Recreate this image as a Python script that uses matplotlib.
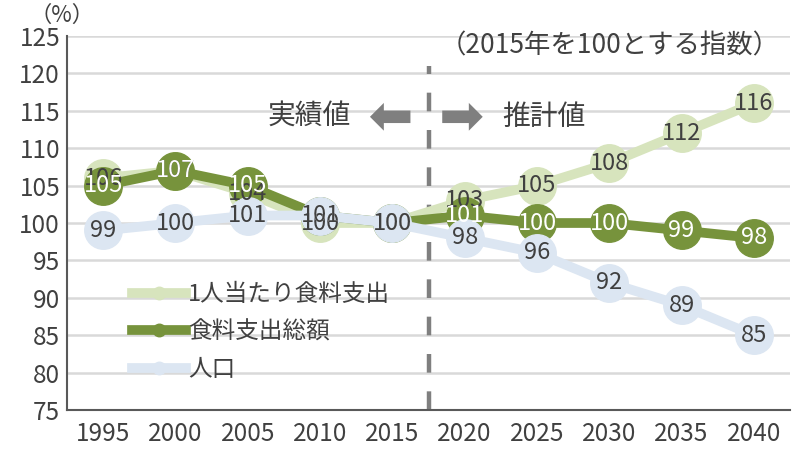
import matplotlib
matplotlib.use("Agg")
import matplotlib.pyplot as plt
from matplotlib.lines import Line2D

plt.rcParams['font.family'] = ['Noto Sans CJK JP', 'DejaVu Sans']

years = ["1995", "2000", "2005", "2010", "2015", "2020", "2025", "2030", "2035", "2040"]
per_capita = [106, 107, 104, 100, 100, 103, 105, 108, 112, 116]
total = [105, 107, 105, 101, 100, 101, 100, 100, 99, 98]
population = [99, 100, 101, 101, 100, 98, 96, 92, 89, 85]

names = ["1人当たり食料支出", "食料支出総額", "人口"]
colors = ["#d7e4bd", "#77933c", "#dce6f2"]
label_colors = ["#404040", "#ffffff", "#404040"]
text_c = "#404040"

fig = plt.figure(figsize=(7.95, 4.53), dpi=100)
ax = fig.add_axes([0.0843, 0.0949, 0.9094, 0.8256])

x = list(range(len(years)))
series = [per_capita, total, population]
for vals, col in zip(series, colors):
    ax.plot(x, vals, color=col, lw=7, marker="o", ms=27, mec=col, mfc=col,
            solid_capstyle="round", zorder=3)
for vals, lc in zip(series, label_colors):
    for xi, v in zip(x, vals):
        ax.text(xi, v, str(v), color=lc, ha="center", va="center",
                fontsize=17, zorder=5)

ax.set_xlim(-0.5, len(years) - 0.5)
ax.set_ylim(75, 125)
ax.set_yticks(range(75, 126, 5))
ax.set_xticks(x)
ax.set_xticklabels(years)
ax.tick_params(length=0, labelsize=17.5, colors=text_c, pad=8)
ax.tick_params(axis="y", pad=5)
ax.grid(axis="y", color="#d9d9d9", lw=1.8, zorder=0)
ax.set_axisbelow(True)
for s in ["top", "right"]:
    ax.spines[s].set_visible(False)
for s in ["left", "bottom"]:
    ax.spines[s].set_color("#595959")
    ax.spines[s].set_linewidth(1.5)

# forecast divider
ax.axvline(4.5, color="#7f7f7f", lw=3.2, dashes=(4.2, 4.2), ymax=0.92, zorder=2)

ax.text(2.85, 114.2, "実績値", fontsize=20, color=text_c, ha="center", va="center")
ax.text(6.1, 114.2, "推計値", fontsize=20, color=text_c, ha="center", va="center")
arrow = dict(arrowstyle="simple,head_length=0.5,head_width=1.0,tail_width=0.45",
             mutation_scale=20, color="#7f7f7f", lw=0, shrinkA=0, shrinkB=0)
ax.annotate("", xy=(3.69, 114.2), xytext=(4.25, 114.2), arrowprops=arrow)
ax.annotate("", xy=(5.25, 114.2), xytext=(4.69, 114.2), arrowprops=arrow)

ax.text(7.0, 123.7, "（2015年を100とする指数）", fontsize=19, color=text_c,
        ha="center", va="center")
fig.text(0.078, 0.967, "（%）", fontsize=16, color=text_c, ha="center", va="center")

handles = [Line2D([], [], color=c, lw=7, marker="o", ms=9, mfc=c, mec=c) for c in colors]
ax.legend(handles, names, loc="lower left", bbox_to_anchor=(0.06, 0.02), frameon=False,
          fontsize=17, handlelength=2.3, handletextpad=0.1, labelspacing=0.62,
          labelcolor=text_c)

fig.savefig("out.png", dpi=100)
